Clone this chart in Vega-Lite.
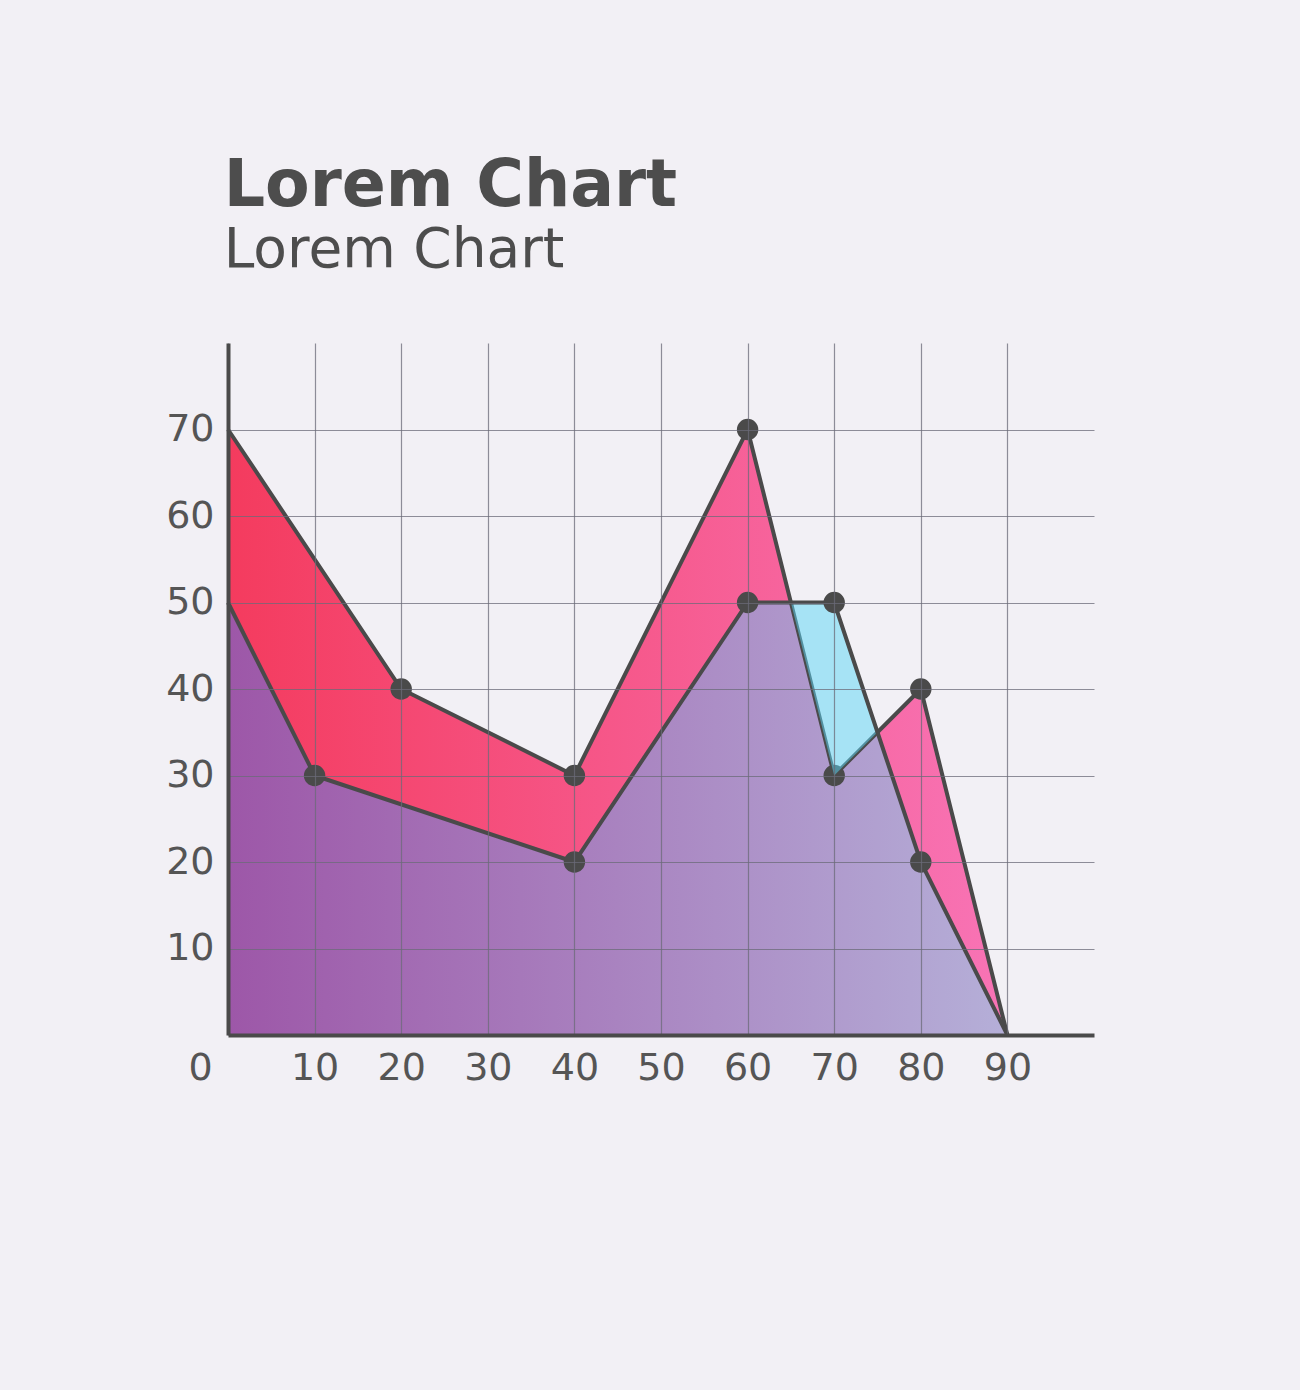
{
  "$schema": "https://vega.github.io/schema/vega-lite/v6.json",
  "width": 866,
  "height": 692,
  "autosize": "none",
  "padding": {"left": 228, "top": 343, "right": 206, "bottom": 355},
  "background": "#f2f0f5",
  "view": {"stroke": null},
  "title": {
    "text": "Lorem Chart",
    "subtitle": "Lorem Chart",
    "anchor": "start",
    "font": "DejaVu Sans",
    "fontSize": 65,
    "fontWeight": "bold",
    "color": "#4d4d4d",
    "subtitleFont": "DejaVu Sans",
    "subtitleFontSize": 55,
    "subtitleColor": "#4d4d4d",
    "subtitlePadding": 4,
    "offset": 64,
    "dx": 58
  },
  "datasets": {
    "series": [
      {"series": "pink", "x": 0, "y": 70},
      {"series": "pink", "x": 20, "y": 40},
      {"series": "pink", "x": 40, "y": 30},
      {"series": "pink", "x": 60, "y": 70},
      {"series": "pink", "x": 70, "y": 30},
      {"series": "pink", "x": 80, "y": 40},
      {"series": "pink", "x": 90, "y": 0},
      {"series": "purple", "x": 0, "y": 50},
      {"series": "purple", "x": 10, "y": 30},
      {"series": "purple", "x": 40, "y": 20},
      {"series": "purple", "x": 60, "y": 50},
      {"series": "purple", "x": 70, "y": 50},
      {"series": "purple", "x": 80, "y": 20},
      {"series": "purple", "x": 90, "y": 0}
    ],
    "lower": [
      {"x": 0, "y": 50},
      {"x": 10, "y": 30},
      {"x": 40, "y": 20},
      {"x": 60, "y": 50},
      {"x": 65, "y": 50},
      {"x": 70, "y": 30},
      {"x": 75, "y": 35},
      {"x": 80, "y": 20},
      {"x": 90, "y": 0}
    ],
    "band": [
      {"x": 65, "y": 50, "y2": 50},
      {"x": 70, "y": 30, "y2": 50},
      {"x": 75, "y": 35, "y2": 35}
    ]
  },
  "encoding": {
    "x": {
      "field": "x",
      "type": "quantitative",
      "scale": {"domain": [0, 100], "nice": false},
      "axis": {
        "values": [0, 10, 20, 30, 40, 50, 60, 70, 80, 90],
        "title": null,
        "domainColor": "#4a4a4a",
        "domainWidth": 4,
        "ticks": false,
        "grid": true,
        "gridColor": "#6b6b78",
        "gridOpacity": 0.75,
        "gridWidth": 1.2,
        "labelFont": "DejaVu Sans",
        "labelFontSize": 38,
        "labelColor": "#555555",
        "labelPadding": 14,
        "labelFlush": false,
        "labelOverlap": false,
        "labelOffset": {"condition": {"test": "datum.value === 0", "value": -28}, "value": 0},
        "zindex": 1
      }
    },
    "y": {
      "field": "y",
      "type": "quantitative",
      "scale": {"domain": [0, 80], "nice": false},
      "axis": {
        "values": [10, 20, 30, 40, 50, 60, 70],
        "title": null,
        "domainColor": "#4a4a4a",
        "domainWidth": 4,
        "ticks": false,
        "grid": true,
        "gridColor": "#6b6b78",
        "gridOpacity": 0.75,
        "gridWidth": 1.2,
        "labelFont": "DejaVu Sans",
        "labelFontSize": 38,
        "labelColor": "#555555",
        "labelPadding": 14,
        "labelOverlap": false,
        "zindex": 1
      }
    }
  },
  "layer": [
    {
      "data": {"name": "series"},
      "transform": [{"filter": "datum.series == 'pink'"}],
      "mark": {
        "type": "area",
        "color": {
          "gradient": "linear",
          "x1": 0, "y1": 0, "x2": 1, "y2": 0,
          "stops": [
            {"offset": 0, "color": "#f43b5e"},
            {"offset": 1, "color": "#f874b6"}
          ]
        },
        "opacity": 1
      }
    },
    {
      "data": {"name": "lower"},
      "mark": {
        "type": "area",
        "color": {
          "gradient": "linear",
          "x1": 0, "y1": 0, "x2": 1, "y2": 0,
          "stops": [
            {"offset": 0, "color": "#9d57a8"},
            {"offset": 1, "color": "#b5afd8"}
          ]
        },
        "opacity": 1
      }
    },
    {
      "data": {"name": "series"},
      "transform": [{"filter": "datum.series == 'pink'"}],
      "mark": {"type": "line", "color": "#4a4a4a", "strokeWidth": 4}
    },
    {
      "data": {"name": "series"},
      "transform": [{"filter": "datum.series == 'pink' && datum.x > 0 && datum.x < 90"}],
      "mark": {"type": "point", "filled": true, "size": 460, "color": "#4a4a4a", "opacity": 1}
    },
    {
      "data": {"name": "band"},
      "mark": {"type": "area", "color": "#5ad6f5", "opacity": 0.5},
      "encoding": {"y2": {"field": "y2"}}
    },
    {
      "data": {"name": "series"},
      "transform": [{"filter": "datum.series == 'purple'"}],
      "mark": {"type": "line", "color": "#4a4a4a", "strokeWidth": 4}
    },
    {
      "data": {"name": "series"},
      "transform": [{"filter": "datum.series == 'purple' && datum.x > 0 && datum.x < 90"}],
      "mark": {"type": "point", "filled": true, "size": 460, "color": "#4a4a4a", "opacity": 1}
    }
  ]
}
